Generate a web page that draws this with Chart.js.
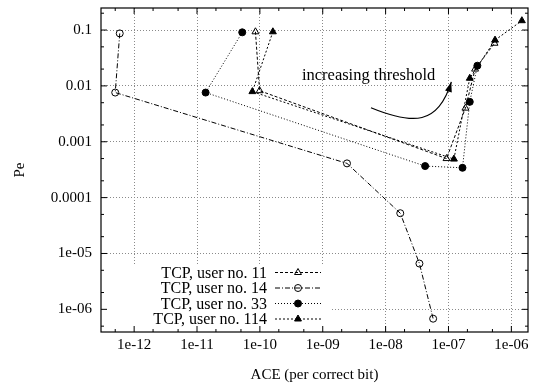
<!DOCTYPE html>
<html>
<head>
<meta charset="utf-8">
<script src="https://cdn.jsdelivr.net/npm/chart.js@4.4.0/dist/chart.umd.min.js"></script>
<style>
html, body { margin: 0; padding: 0; background: #fff; }
#wrap { width: 533px; height: 383px; }
</style>
</head>
<body>
<div id="wrap"><canvas id="peChart"></canvas></div>
<script>
// values (log-log)
const seriesLabels = ['TCP, user no. 11', 'TCP, user no. 14', 'TCP, user no. 33', 'TCP, user no. 114'];

const aceUser11 = [8.5e-11, 9.9e-11, 9.3e-8, 1.86e-7, 2.65e-7, 5.4e-7];
const peUser11 = [0.093, 0.0082, 5.0e-4, 0.004, 0.020, 0.058];

const aceUser14 = [5.9e-13, 5.0e-13, 2.43e-9, 1.71e-8, 3.45e-8, 5.7e-8];
const peUser14 = [0.087, 0.0076, 4.1e-4, 5.26e-5, 6.6e-6, 6.8e-7];

const aceUser33 = [5.24e-11, 1.37e-11, 4.25e-8, 1.67e-7, 2.18e-7, 2.88e-7];
const peUser33 = [0.091, 0.0076, 3.67e-4, 3.42e-4, 5.18e-3, 0.023];

const aceUser114 = [1.61e-10, 7.6e-11, 1.22e-7, 2.18e-7, 5.5e-7, 1.47e-6];
const peUser114 = [0.093, 0.0079, 4.9e-4, 0.0137, 0.066, 0.147];

const xTickValues = [1e-12, 1e-11, 1e-10, 1e-9, 1e-8, 1e-7, 1e-6];
const xTickLabels = ['1e-12', '1e-11', '1e-10', '1e-09', '1e-08', '1e-07', '1e-06'];
const yTickValues = [1e-6, 1e-5, 1e-4, 1e-3, 1e-2, 1e-1];
const yTickLabels = ['1e-06', '1e-05', '0.0001', '0.001', '0.01', '0.1'];

// "increasing threshold" note and its curved arrow (data coordinates)
const noteText = 'increasing threshold';
const noteAce = 4.66e-10;
const notePe = 0.0128;
const arrowAce = [5.84e-9, 2.75e-8, 6.83e-8, 1.11e-7];
const arrowPe = [0.00407, 0.00199, 0.00199, 0.0118];

const serif = '"Liberation Serif", "DejaVu Serif", serif';

function makeSeries(label, ace, pe, style, filled, dash, radius) {
    return {
        label: label,
        data: ace.map(function (v, i) { return { x: v, y: pe[i] }; }),
        borderColor: '#000',
        borderWidth: 1,
        borderDash: dash,
        pointStyle: style,
        pointRadius: radius,
        pointBackgroundColor: filled ? '#000' : 'rgba(0,0,0,0)',
        pointBorderColor: '#000',
        pointBorderWidth: 1,
        fill: false,
        tension: 0
    };
}

const datasets = [
    makeSeries(seriesLabels[0], aceUser11, peUser11, 'triangle', false, [3, 2], 4),
    makeSeries(seriesLabels[1], aceUser14, peUser14, 'circle', false, [5, 2, 1, 2], 3.5),
    makeSeries(seriesLabels[2], aceUser33, peUser33, 'circle', true, [1, 2], 3.5),
    makeSeries(seriesLabels[3], aceUser114, peUser114, 'triangle', true, [2, 2], 4)
];

function minorValues(scale) {
    const out = [];
    const lo = Math.floor(Math.log10(scale.min));
    const hi = Math.ceil(Math.log10(scale.max));
    for (let e = lo; e <= hi; e++) {
        [2, 5].forEach(function (m) {
            const v = m * Math.pow(10, e);
            if (v > scale.min && v < scale.max) out.push(v);
        });
    }
    return out;
}

function drawMarker(ctx, ds, x, y) {
    ctx.save();
    ctx.setLineDash([]);
    ctx.fillStyle = ds.pointBackgroundColor;
    ctx.strokeStyle = '#000';
    ctx.lineWidth = 1;
    if (Chart.helpers && Chart.helpers.drawPoint) {
        Chart.helpers.drawPoint(ctx, { pointStyle: ds.pointStyle, radius: ds.pointRadius, borderWidth: 1, rotation: 0 }, x, y);
    }
    ctx.restore();
}

function noPadding(s) {
    s.paddingTop = 0;
    s.paddingBottom = 0;
    s.paddingLeft = 0;
    s.paddingRight = 0;
}

const gnuplotFrame = {
    id: 'gnuplotFrame',
    beforeDatasetsDraw: function (chart) {
        const ctx = chart.ctx;
        const a = chart.chartArea;
        // legend box hides the grid
        ctx.save();
        ctx.fillStyle = '#fff';
        ctx.fillRect(a.left, a.bottom - 67, 330 - a.left, 67);
        ctx.restore();
    },
    afterDatasetsDraw: function (chart) {
        const ctx = chart.ctx;
        const a = chart.chartArea;
        const xs = chart.scales.x;
        const ys = chart.scales.y;

        // border
        ctx.save();
        ctx.strokeStyle = '#000';
        ctx.lineWidth = 1.2;
        ctx.strokeRect(a.left, a.top, a.right - a.left, a.bottom - a.top);

        // inward ticks on all four sides
        ctx.lineWidth = 1;
        ctx.beginPath();
        xTickValues.forEach(function (v) {
            const px = xs.getPixelForValue(v);
            ctx.moveTo(px, a.bottom); ctx.lineTo(px, a.bottom - 6);
            ctx.moveTo(px, a.top); ctx.lineTo(px, a.top + 6);
        });
        minorValues(xs).forEach(function (v) {
            const px = xs.getPixelForValue(v);
            ctx.moveTo(px, a.bottom); ctx.lineTo(px, a.bottom - 3);
            ctx.moveTo(px, a.top); ctx.lineTo(px, a.top + 3);
        });
        yTickValues.forEach(function (v) {
            const py = ys.getPixelForValue(v);
            ctx.moveTo(a.left, py); ctx.lineTo(a.left + 6, py);
            ctx.moveTo(a.right, py); ctx.lineTo(a.right - 6, py);
        });
        minorValues(ys).forEach(function (v) {
            const py = ys.getPixelForValue(v);
            ctx.moveTo(a.left, py); ctx.lineTo(a.left + 3, py);
            ctx.moveTo(a.right, py); ctx.lineTo(a.right - 3, py);
        });
        ctx.stroke();

        // legend
        ctx.font = '16px ' + serif;
        ctx.textAlign = 'right';
        ctx.textBaseline = 'middle';
        ctx.fillStyle = '#000';
        const n = datasets.length;
        datasets.forEach(function (ds, i) {
            const rowY = a.bottom - 13 - (n - 1 - i) * 15.5;
            ctx.fillText(ds.label, 267, rowY + 1);
            ctx.save();
            ctx.setLineDash(ds.borderDash);
            ctx.beginPath();
            ctx.moveTo(275, rowY);
            ctx.lineTo(321, rowY);
            ctx.stroke();
            ctx.restore();
            drawMarker(ctx, ds, 298, rowY);
        });

        // note and arrow
        ctx.font = '16.5px ' + serif;
        ctx.textAlign = 'left';
        ctx.textBaseline = 'alphabetic';
        ctx.fillText(noteText, xs.getPixelForValue(noteAce), ys.getPixelForValue(notePe));

        const p = arrowAce.map(function (v, i) {
            return [xs.getPixelForValue(v), ys.getPixelForValue(arrowPe[i])];
        });
        ctx.lineWidth = 1.2;
        ctx.beginPath();
        ctx.moveTo(p[0][0], p[0][1]);
        ctx.bezierCurveTo(p[1][0], p[1][1], p[2][0], p[2][1], p[3][0], p[3][1]);
        ctx.stroke();
        const ang = Math.atan2(p[3][1] - p[2][1], p[3][0] - p[2][0]);
        const len = 10, half = 3.5;
        const bx = p[3][0] - len * Math.cos(ang), by = p[3][1] - len * Math.sin(ang);
        ctx.beginPath();
        ctx.moveTo(p[3][0], p[3][1]);
        ctx.lineTo(bx + half * Math.sin(ang), by - half * Math.cos(ang));
        ctx.lineTo(bx - half * Math.sin(ang), by + half * Math.cos(ang));
        ctx.closePath();
        ctx.fill();
        ctx.restore();
    }
};

new Chart(document.getElementById('peChart'), {
    type: 'line',
    data: { datasets: datasets },
    options: {
        responsive: true,
        maintainAspectRatio: false,
        animation: false,
        layout: { padding: { top: 8, right: 3, left: 0, bottom: 0 } },
        plugins: {
            legend: { display: false },
            tooltip: { enabled: false }
        },
        scales: {
            x: {
                type: 'logarithmic',
                min: 2.97e-13,
                max: 1.84e-6,
                afterBuildTicks: function (s) {
                    s.ticks = xTickValues.map(function (v) { return { value: v }; });
                },
                afterFit: function (s) { s.height = 51; noPadding(s); },
                grid: { color: '#8a8a8a', lineWidth: 1, drawTicks: false },
                border: { display: false, dash: [1, 2] },
                ticks: {
                    color: '#000',
                    font: { family: serif, size: 15 },
                    padding: 4,
                    autoSkip: false,
                    maxRotation: 0,
                    callback: function (value) {
                        const i = xTickValues.indexOf(value);
                        return i >= 0 ? xTickLabels[i] : '';
                    }
                },
                title: {
                    display: true,
                    text: 'ACE (per correct bit)',
                    color: '#000',
                    font: { family: serif, size: 15, lineHeight: 1 },
                    padding: 0
                }
            },
            y: {
                type: 'logarithmic',
                min: 3.93e-7,
                max: 0.248,
                afterBuildTicks: function (s) {
                    s.ticks = yTickValues.map(function (v) { return { value: v }; });
                },
                afterFit: function (s) { s.width = 101; noPadding(s); },
                grid: { color: '#8a8a8a', lineWidth: 1, drawTicks: false },
                border: { display: false, dash: [1, 2] },
                ticks: {
                    color: '#000',
                    font: { family: serif, size: 15 },
                    padding: 9,
                    autoSkip: false,
                    callback: function (value) {
                        const i = yTickValues.indexOf(value);
                        return i >= 0 ? yTickLabels[i] : '';
                    }
                },
                title: {
                    display: true,
                    text: 'Pe',
                    color: '#000',
                    font: { family: serif, size: 15, lineHeight: 1 },
                    padding: { top: 12.5, bottom: 0 }
                }
            }
        }
    },
    plugins: [gnuplotFrame]
});
</script>
</body>
</html>
